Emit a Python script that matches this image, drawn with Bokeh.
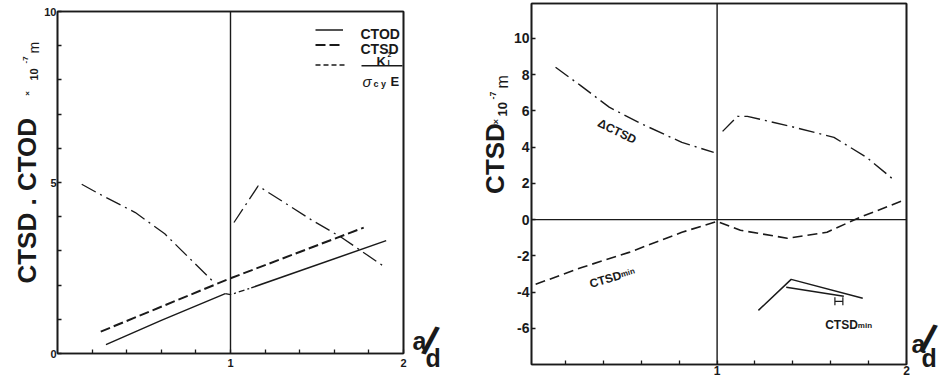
import math
from bokeh.plotting import figure
from bokeh.layouts import row
from bokeh.models import (Span, Label, Legend, LegendItem, FixedTicker, Range1d,
                          BoxAnnotation, LinearAxis)
from bokeh.embed import file_html
from bokeh.resources import INLINE

# ---------------- data: left panel ----------------
ctod_a1 = [0.28, 0.60, 0.97]
ctod_v1 = [0.26, 0.97, 1.75]
ctod_a2 = [1.12, 1.90]
ctod_v2 = [1.92, 3.30]
bridge_a = [0.97, 1.00, 1.12]
bridge_v = [1.75, 1.72, 1.92]
ctsd_a = [0.25, 1.00, 1.77]
ctsd_v = [0.64, 2.20, 3.68]
dd_left_a = [0.14, 0.24, 0.45, 0.62, 0.76, 0.91]
dd_left_v = [4.95, 4.67, 4.12, 3.50, 2.80, 2.05]
dd_right_a = [1.02, 1.16, 1.47, 1.64, 1.88]
dd_right_v = [3.83, 4.90, 3.90, 3.40, 2.57]
left_yticks = [0, 1, 2, 3, 4, 5, 6, 7, 8, 9, 10]
left_ylabels = {0: "0", 5: "5", 10: "10"}
ad_ticks = [0.2, 0.4, 0.6, 0.8, 1.0, 1.2, 1.4, 1.6, 1.8, 2.0]
ad_labels = {1.0: "1", 2.0: "2"}

# ---------------- data: right panel ----------------
dctsd_a1 = [0.147, 0.278, 0.430, 0.588, 0.814, 0.982]
dctsd_v1 = [8.41, 7.41, 6.21, 5.35, 4.26, 3.71]
dctsd_a2 = [1.029, 1.108, 1.160, 1.386, 1.617, 1.790, 1.937]
dctsd_v2 = [4.87, 5.70, 5.70, 5.15, 4.54, 3.43, 2.16]
ctsdmin_a = [0.042, 0.289, 0.535, 0.814, 1.000, 1.123, 1.370, 1.580, 1.753, 1.984]
ctsdmin_v = [-3.57, -2.63, -1.81, -0.70, -0.10, -0.59, -1.03, -0.70, 0.12, 1.06]
sketch_upper_a = [1.218, 1.391, 1.769]
sketch_upper_v = [-5.01, -3.30, -4.34]
sketch_lower_a = [1.365, 1.669]
sketch_lower_v = [-3.74, -4.23]
gap_bar_a = [1.622, 1.664]
gap_bar_top = -4.29
gap_bar_bottom = -4.73
gap_bar_mid = -4.51
right_yticks = [-6, -4, -2, 0, 2, 4, 6, 8, 10]
right_ylabels = {-6: "-6", -4: "-4", -2: "-2", 0: "0", 2: "2", 4: "4", 6: "6", 8: "8", 10: "10"}

INK = "#1a1a1a"
FONT = "Liberation Sans"
H = 380


def styled_figure(width, xr, yr, left, right, top, bottom):
    p = figure(width=width, height=H, x_range=Range1d(*xr), y_range=Range1d(*yr),
               output_backend="svg", toolbar_location=None,
               min_border_left=left, min_border_right=right,
               min_border_top=top, min_border_bottom=bottom)
    p.frame_align = False
    p.grid.visible = False
    p.background_fill_color = "white"
    p.border_fill_color = "white"
    p.outline_line_color = INK
    p.outline_line_width = 1.6
    xb = p.below[0]
    yl = p.left[0]
    for ax in (xb, yl):
        ax.axis_line_color = INK
        ax.axis_line_width = 1.6
        ax.major_tick_in = 4
        ax.major_tick_out = 0
        ax.major_tick_line_color = INK
        ax.major_tick_line_width = 1.3
        ax.minor_tick_line_color = None
        ax.major_label_text_font = FONT
        ax.major_label_text_font_style = "bold"
        ax.major_label_text_color = INK
    # closing edges of the frame box (top and right), without ticks
    for side in ("above", "right"):
        edge = LinearAxis(ticker=FixedTicker(ticks=[]), axis_line_color=INK,
                          axis_line_width=1.6, major_tick_line_color=None,
                          minor_tick_line_color=None, major_label_standoff=0,
                          major_label_text_font_size="8px")
        p.add_layout(edge, side)
    return p, xb, yl


def strip(width):
    s = figure(width=width, height=H, x_range=Range1d(0, 1), y_range=Range1d(0, 1),
               output_backend="svg", toolbar_location=None,
               x_axis_location=None, y_axis_location=None,
               min_border_left=0, min_border_right=0, min_border_top=0, min_border_bottom=0)
    s.frame_align = False
    s.grid.visible = False
    s.outline_line_color = None
    s.background_fill_color = "white"
    s.border_fill_color = "white"
    return s


def lab(p, x, y, text, size, xu="screen", yu="screen", align="left",
        baseline="alphabetic", angle=0.0, style="bold"):
    p.add_layout(Label(x=x, y=y, x_units=xu, y_units=yu, text=text,
                       text_font=FONT, text_font_size=f"{size}px",
                       text_font_style=style, text_color=INK,
                       text_align=align, text_baseline=baseline, angle=angle))


UP = math.pi / 2

# ================= left title strip =================
sL = strip(41)
lab(sL, 26, 187, "CTSD  .  CTOD", 26, align="center", baseline="middle", angle=UP)
lab(sL, 27, 287, "×", 8, align="center", baseline="middle", angle=UP)
lab(sL, 33, 300, "10", 11, angle=UP)
lab(sL, 25, 317, "-7", 8, angle=UP)
lab(sL, 33, 327, "m", 14, angle=UP, style="normal")

# ================= left panel =================
p1, p1x, p1y = styled_figure(367, (0, 2), (0, 10), 14, 5, 11, 27)
p1y.ticker = FixedTicker(ticks=left_yticks)
p1y.major_label_overrides = {t: left_ylabels.get(t, "") for t in left_yticks}
p1y.major_label_text_font_size = "11px"
p1y.major_label_standoff = 1
p1x.ticker = FixedTicker(ticks=ad_ticks)
p1x.major_label_overrides = {t: ad_labels.get(t, "") for t in ad_ticks}
p1x.major_label_text_font_size = "11px"
p1x.major_label_standoff = 5

p1.add_layout(Span(location=1, dimension="height", line_color=INK, line_width=1.4))

r_ctod = p1.line(ctod_a1, ctod_v1, line_color=INK, line_width=1.5)
p1.line(ctod_a2, ctod_v2, line_color=INK, line_width=1.5)
p1.line(bridge_a, bridge_v, line_color=INK, line_width=1.3, line_dash="6 3 2 3")
r_ctsd = p1.line(ctsd_a, ctsd_v, line_color=INK, line_width=2.0, line_dash="10 4")
p1.line(dd_left_a, dd_left_v, line_color=INK, line_width=1.3, line_dash="16 5 2 5")
p1.line(dd_right_a, dd_right_v, line_color=INK, line_width=1.3, line_dash="16 5 2 5")
r_k = p1.line([float("nan")], [float("nan")], line_color=INK, line_width=1.4, line_dash="5 3")

leg_style = dict(border_line_color=None, background_fill_alpha=0, padding=0, margin=0,
                 spacing=0, glyph_height=15, label_height=15, label_standoff=0,
                 label_text_font=FONT, label_text_font_size="8px", label_text_color=INK)
leg1 = Legend(items=[LegendItem(label=" ", renderers=[r_ctod]),
                     LegendItem(label=" ", renderers=[r_ctsd])],
              location=(258, 301), glyph_width=28, **leg_style)
leg2 = Legend(items=[LegendItem(label=" ", renderers=[r_k])],
              location=(258, 281), glyph_width=31, **leg_style)
p1.add_layout(leg1)
p1.add_layout(leg2)
lab(p1, 303, 320, "CTOD", 14)
lab(p1, 303, 305, "CTSD", 14)

# fraction K_I^2 / (sigma_cy E)
p1.add_layout(BoxAnnotation(left=304, right=345, bottom=287, top=288.6,
                            left_units="screen", right_units="screen",
                            top_units="screen", bottom_units="screen",
                            fill_color=INK, fill_alpha=1, line_color=None))
lab(p1, 319, 292, "K", 13)
lab(p1, 330, 291, "I", 8)
lab(p1, 330, 299, "2", 7)
lab(p1, 305, 272, "σ", 15, style="italic")
lab(p1, 316, 270, "c y", 9)
lab(p1, 333, 272, "E", 13)

# ================= left a/d strip =================
sLad = strip(67)
lab(sLad, 4, 40, "a", 25)
lab(sLad, 22, 40, "/", 40, align="center", baseline="middle", angle=-0.3)
lab(sLad, 17, 23, "d", 25)

# ================= right title strip =================
sR = strip(35)
lab(sR, 19, 222, "CTSD", 26, align="center", baseline="middle", angle=UP)
lab(sR, 20, 259, "×", 9, align="center", baseline="middle", angle=UP)
lab(sR, 27, 264, "10", 13, angle=UP)
lab(sR, 17, 281, "-7", 9, angle=UP)
lab(sR, 27, 292, "m", 16, angle=UP, style="normal")

# ================= right panel =================
p2, p2x, p2y = styled_figure(400, (0.02, 2.0), (-8, 11.93), 19, 4, 3, 16)
p2y.ticker = FixedTicker(ticks=right_yticks)
p2y.major_label_overrides = right_ylabels
p2y.major_label_text_font_size = "14px"
p2y.major_label_standoff = 2
p2x.ticker = FixedTicker(ticks=ad_ticks)
p2x.major_label_overrides = {t: ad_labels.get(t, "") for t in ad_ticks}
p2x.major_label_text_font_size = "12px"
p2x.major_label_standoff = 1

p2.add_layout(Span(location=1, dimension="height", line_color=INK, line_width=1.4))
p2.add_layout(Span(location=0, dimension="width", line_color=INK, line_width=1.2))

p2.line(dctsd_a1, dctsd_v1, line_color=INK, line_width=1.4, line_dash="16 5 2 5")
p2.line(dctsd_a2, dctsd_v2, line_color=INK, line_width=1.4, line_dash="16 5 2 5")
p2.line(ctsdmin_a, ctsdmin_v, line_color=INK, line_width=1.6, line_dash="10 5")
p2.line(sketch_upper_a, sketch_upper_v, line_color=INK, line_width=1.5)
p2.line(sketch_lower_a, sketch_lower_v, line_color=INK, line_width=1.5)
p2.segment(x0=gap_bar_a, y0=[gap_bar_top] * 2, x1=gap_bar_a, y1=[gap_bar_bottom] * 2,
           line_color=INK, line_width=1.2)
p2.segment(x0=[gap_bar_a[0]], y0=[gap_bar_mid], x1=[gap_bar_a[1]], y1=[gap_bar_mid],
           line_color=INK, line_width=1.2)

lab(p2, 0.472, 4.87, "ΔCTSD", 12, xu="data", yu="data", align="center",
    baseline="middle", angle=-0.46)
lab(p2, 0.493, -3.05, "CTSD", 12, xu="data", yu="data", align="right", angle=0.29)
lab(p2, 0.493, -3.05, "min", 8, xu="data", yu="data", align="left", angle=0.29)
lab(p2, 1.743, -5.83, "CTSD", 12, xu="data", yu="data", align="right")
lab(p2, 1.743, -5.83, "min", 8, xu="data", yu="data", align="left")

# ================= right a/d strip =================
sRad = strip(36)
lab(sRad, 1, 37, "a", 25)
lab(sRad, 18, 42, "/", 40, align="center", baseline="middle", angle=-0.3)
lab(sRad, 11, 23, "d", 25)

layout = row(sL, p1, sLad, sR, p2, sRad)
open("out.html", "w").write(file_html(layout, INLINE))
